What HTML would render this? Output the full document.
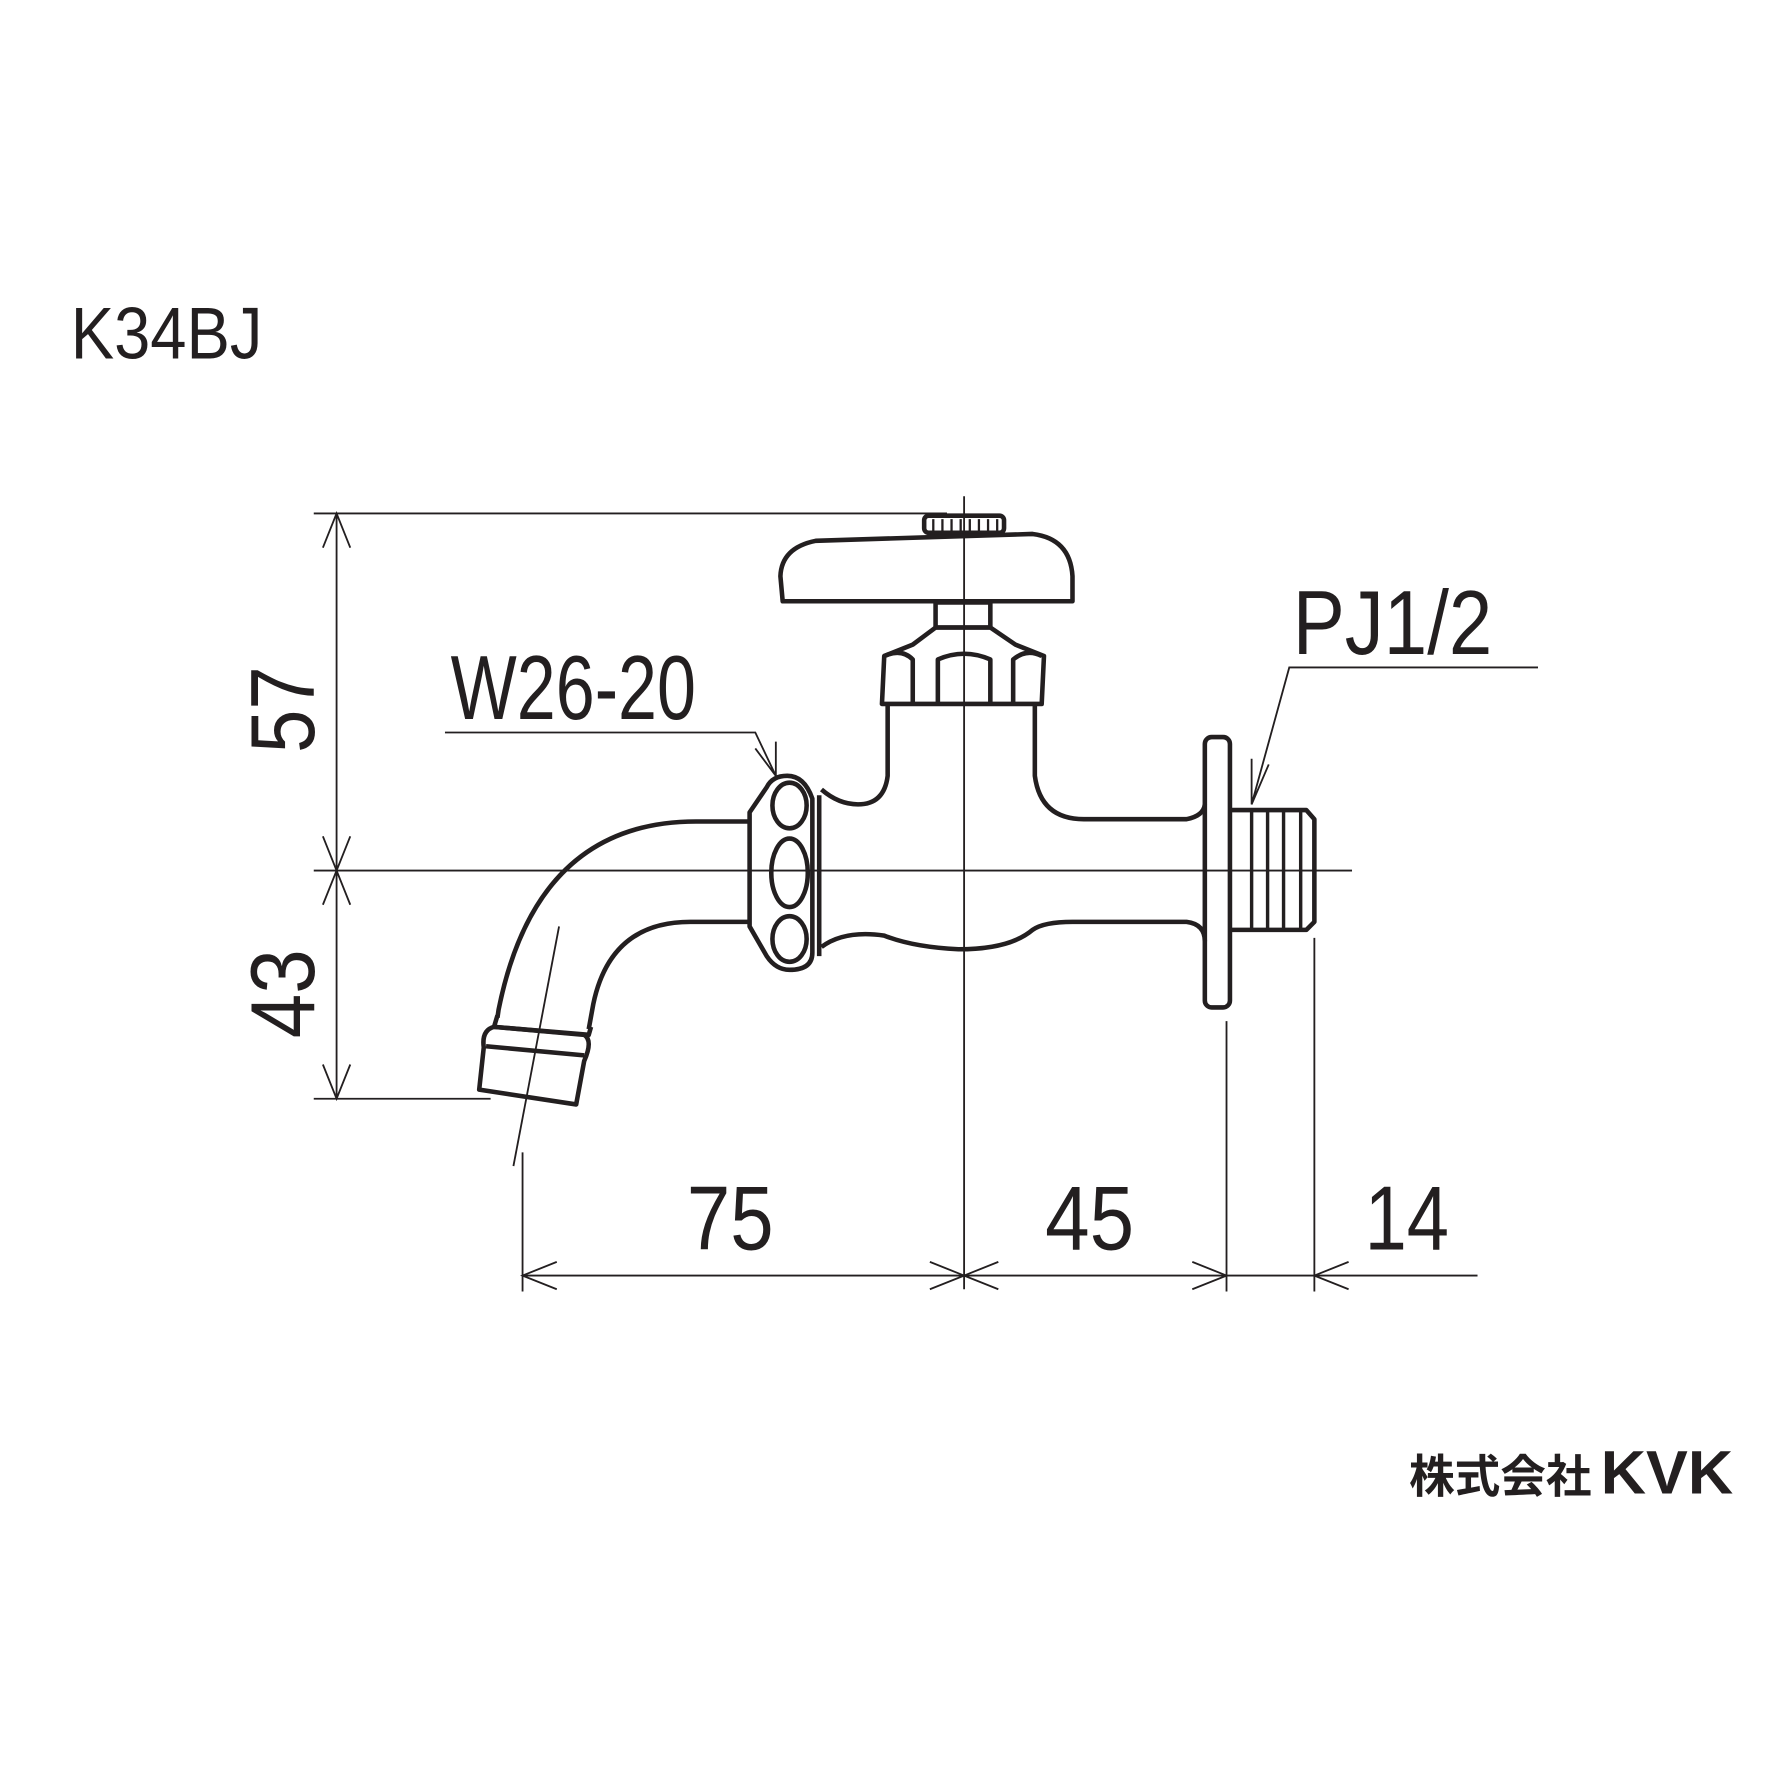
<!DOCTYPE html>
<html><head><meta charset="utf-8"><style>html,body{margin:0;padding:0;background:#fff}svg{display:block}</style></head>
<body>
<svg width="1789" height="1789" viewBox="0 0 1568 1568" xmlns="http://www.w3.org/2000/svg">
<rect width="1568" height="1568" fill="#fff"/>
<g font-family="'Liberation Sans', sans-serif" fill="#231f20">
<text x="62" y="314" font-size="64" textLength="168" lengthAdjust="spacingAndGlyphs">K34BJ</text>
<text x="395" y="630" font-size="80" textLength="215" lengthAdjust="spacingAndGlyphs">W26-20</text>
<text x="1133" y="573" font-size="80" textLength="175" lengthAdjust="spacingAndGlyphs">PJ1/2</text>
<text x="602" y="1095" font-size="80" textLength="76" lengthAdjust="spacingAndGlyphs">75</text>
<text x="916" y="1095" font-size="80" textLength="78" lengthAdjust="spacingAndGlyphs">45</text>
<text x="1196" y="1095" font-size="80" textLength="74" lengthAdjust="spacingAndGlyphs">14</text>
<text transform="translate(275,660) rotate(-90)" font-size="80" textLength="76" lengthAdjust="spacingAndGlyphs">57</text>
<text transform="translate(275,910) rotate(-90)" font-size="80" textLength="78" lengthAdjust="spacingAndGlyphs">43</text>
<text x="1235" y="1308" font-size="40" font-weight="bold" font-family="'Liberation Sans','Noto Sans CJK JP',sans-serif">株式会社</text>
<text x="1403" y="1309" font-size="54" font-weight="bold" textLength="116" lengthAdjust="spacingAndGlyphs">KVK</text>
</g>
<g stroke="#231f20" fill="none" stroke-width="1.6">
<line x1="845" y1="435" x2="845" y2="1130"/>
<line x1="275" y1="763" x2="1185" y2="763"/>
<line x1="275" y1="450" x2="830" y2="450"/>
<line x1="295" y1="450" x2="295" y2="963"/>
<line x1="275" y1="963" x2="430" y2="963"/>
<line x1="458" y1="1118" x2="1295" y2="1118"/>
<line x1="458" y1="1010" x2="458" y2="1132"/>
<line x1="1075" y1="895" x2="1075" y2="1132"/>
<line x1="1152" y1="822" x2="1152" y2="1132"/>
<path d="M283 480L295 450L307 480M283 733L295 763L307 733M283 793L295 763L307 793M283 933L295 963L307 933"/>
<path d="M488 1106L458 1118L488 1130M815 1106L845 1118L815 1130M875 1106L845 1118L875 1130M1045 1106L1075 1118L1045 1130M1182 1106L1152 1118L1182 1130"/>
<path d="M390 642L662 642L680 680M680 650L680 680L662 656"/>
<path d="M1348 585L1130 585L1097 705M1097 665L1097 705L1112 670"/>
<line x1="490" y1="812" x2="450" y2="1022"/>
</g>
<g stroke="#231f20" fill="none" stroke-width="4" stroke-linejoin="round">
<rect x="810" y="452" width="70" height="15" rx="4"/>
<path d="M818 455v10M826 455v10M834 455v10M842 455v10M850 455v10M858 455v10M866 455v10M874 455v10" stroke-width="2"/>
<path d="M686 527L684 505Q685 480 715 474L905 468Q938 472 940 505L940 527Z"/>
<rect x="820" y="528" width="48" height="22"/>
<path d="M820 550L800 565L775 575L773 617L913 617L915 575L890 565L868 550Z"/>
<path d="M775 575Q790 568 800 578L800 617M822 617L822 578Q845 568 868 578L868 617M888 617L888 578Q900 568 913 575"/>
<path d="M778 618L778 680Q775 705 752 705Q735 705 720 692"/>
<path d="M907 618L907 680Q912 718 950 718L1040 718Q1055 715 1056 705"/>
<path d="M720 830Q740 815 775 820Q800 830 840 832Q885 832 905 815Q915 808 940 808L1040 808Q1056 810 1056 825"/>
<rect x="1056" y="646" width="22" height="237" rx="6"/>
<path d="M1078 710L1145 710L1152 718L1152 808L1145 815L1078 815"/>
<path d="M1097 710v105M1111 710v105M1125 710v105M1140 710v105" stroke-width="3"/>
<path d="M718 697L718 838M712 700Q705 680 690 680Q677 680 672 690L657 712L657 812L672 838Q680 850 692 850Q712 850 712 835Z"/>
<ellipse cx="692" cy="706" rx="15" ry="20"/>
<ellipse cx="692" cy="765" rx="16" ry="30"/>
<ellipse cx="692" cy="823" rx="15" ry="20"/>
<path d="M657 720L610 720Q470 720 437 885L436 892"/>
<path d="M657 808L605 808Q535 808 520 880L516 902"/>
<path d="M436 890L433 900L516 907L518 900"/>
<path d="M433 900Q422 903 424 918L420 955L505 968L512 930Q520 912 512 907Z"/>
<path d="M426 917L512 925"/>
</g>
</svg>
</body></html>
